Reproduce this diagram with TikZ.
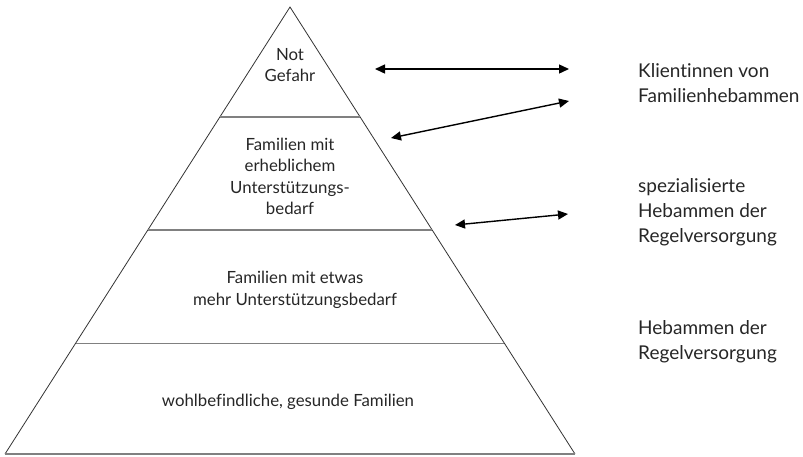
\documentclass[tikz,border=0pt]{standalone}
\usepackage{fontspec}
\setmainfont{Lato}[Ligatures={NoCommon}]
\usetikzlibrary{arrows.meta,calc}
\begin{document}
\begin{tikzpicture}[x=1pt,y=-1pt,
  side/.style={draw=black!80,line width=0.8pt},
  level/.style={draw=black!50,line width=1.2pt},
  biarrow/.style={draw=black,line width=1.4pt,{Triangle[length=10pt,width=9pt]}-{Triangle[length=10pt,width=9pt]}},
  pyrtext/.style={align=center,text=black!85,font=\fontsize{16.8}{21.5}\selectfont,inner sep=0pt},
  sidetext/.style={align=left,anchor=west,text=black!85,font=\fontsize{19}{25}\selectfont,inner sep=0pt}]
\useasboundingbox (0,0) rectangle (803,456);
\coordinate (apex) at (290,7);
\coordinate (bl) at (5,454);
\coordinate (br) at (575,454);
\draw[side] (bl) -- (apex) -- (br);
\draw[level] (bl) -- (br);
\foreach \f/\n in {0.246/a,0.499/b,0.752/c}{
  \coordinate (L\n) at ($(apex)!\f!(bl)$);
  \coordinate (R\n) at ($(apex)!\f!(br)$);
  \draw[level] (L\n) -- (R\n);
}
\node[pyrtext] (t1) at (290,65) {Not\\Gefahr};
\node[pyrtext] (t2) at (290,176.5) {Familien mit\\erheblichem\\Unterstützungs-\\bedarf};
\node[pyrtext] (t3) at (295,290) {Familien mit etwas\\mehr Unterstützungsbedarf};
\node[pyrtext] (t4) at (288,402) {wohlbefindliche, gesunde Familien};
\node[sidetext] (s1) at (638,83) {Klientinnen von\\Familienhebammen};
\node[sidetext] (s2) at (638,212) {spezialisierte\\Hebammen der\\Regelversorgung};
\node[sidetext] (s3) at (638,342) {Hebammen der\\Regelversorgung};
\coordinate (a1l) at (375,69);
\coordinate (a1r) at (569,69);
\coordinate (a2l) at (391,138);
\coordinate (a2r) at (569,101);
\coordinate (a3l) at (455,225);
\coordinate (a3r) at (568,214);
\draw[biarrow] (a1l) -- (a1r);
\draw[biarrow] (a2l) -- (a2r);
\draw[biarrow] (a3l) -- (a3r);
\end{tikzpicture}
\end{document}
